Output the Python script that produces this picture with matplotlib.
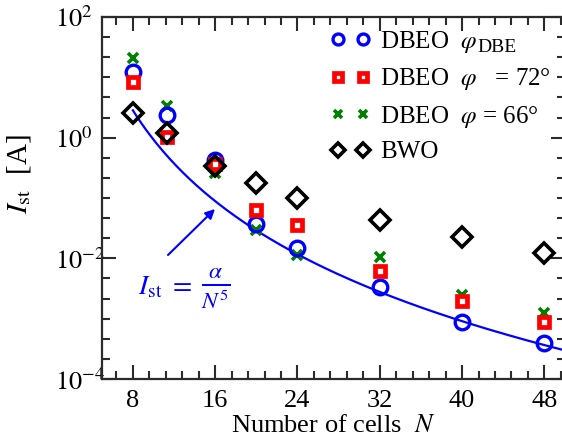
import numpy as np
import matplotlib
matplotlib.use("Agg")
import matplotlib.pyplot as plt
from matplotlib.ticker import FixedLocator, MultipleLocator, FuncFormatter, NullFormatter

plt.rcParams['font.family'] = ['Liberation Serif', 'DejaVu Serif']
plt.rcParams['mathtext.fontset'] = 'stix'

# data
N = [8, 11.3, 16, 20, 24, 32, 40, 48]
dbeo_dbe = [12.1, 2.38, 0.43, 0.0366, 0.0147, 0.0033, 0.00089, 0.00039]
dbeo_72 = [8.5, 1.04, 0.37, 0.0632, 0.0357, 0.0062, 0.0020, 0.00089]
dbeo_66 = [20.7, 3.35, 0.256, 0.0294, 0.0114, 0.0106, 0.00247, 0.00123]
bwo = [2.6, 1.19, 0.343, 0.175, 0.0988, 0.0431, 0.0223, 0.0124]
alpha = 9.3e4
N_fit = np.linspace(8, 50, 200)

W, H = 562, 443
fig = plt.figure(figsize=(W / 100, H / 100), dpi=100)
ax = fig.add_axes([102 / W, (H - 379) / H, 463 / W, 362 / H])

ax.plot(N_fit, alpha / N_fit ** 5, color='#0000ff', lw=1.6, zorder=1)

ax.plot(N, dbeo_dbe, ls='none', marker='o', ms=10.5, mfc='none', mec='#0000ff', mew=2.4,
        label=r'DBEO  $\varphi$', zorder=3)
ax.plot(N, dbeo_72, ls='none', marker='s', ms=7.5, mfc='white', mec='#ff0000', mew=3.4,
        label='DBEO  $\\varphi$   = 72°', zorder=4)
ax.plot(N, dbeo_66, ls='none', marker='x', ms=7, mec='#008000', mew=2.6,
        label='DBEO  $\\varphi$ = 66°', zorder=2)
ax.plot(N, bwo, ls='none', marker='D', ms=10, mfc='none', mec='black', mew=2.6,
        label='BWO', zorder=5)

ax.set_yscale('log')
ax.set_xlim(5, 50)
ax.set_ylim(1e-4, 1e2)

ax.xaxis.set_major_locator(MultipleLocator(8))
ax.xaxis.set_minor_locator(MultipleLocator(1.6))
ax.yaxis.set_major_locator(FixedLocator([1e-4, 1e-2, 1e0, 1e2]))
ax.yaxis.set_minor_locator(FixedLocator([10 ** (k / 3) for k in range(-12, 7)]))
ax.yaxis.set_minor_formatter(NullFormatter())
ax.yaxis.set_major_formatter(FuncFormatter(lambda v, p: r'$10^{%d}$' % int(round(np.log10(v)))))

spc = '#2b2b2b'
for s in ax.spines.values():
    s.set_linewidth(1.6)
    s.set_color(spc)
ax.tick_params(which='both', direction='in', top=True, right=True, color=spc, width=1.5,
               labelsize=19)
ax.tick_params(which='major', length=10)
ax.tick_params(which='minor', length=5.5)
ax.tick_params(axis='x', which='major', pad=8)
ax.tick_params(axis='y', which='major', pad=34)
for lab in ax.get_yticklabels():
    lab.set_ha('left')

ax.set_xlabel(r'Number of cells  $N$', fontsize=19, labelpad=2)
ax.set_ylabel(r'$I_{\rm st}$  [A]', fontsize=21)
ax.yaxis.set_label_coords(-0.15, 0.566)

# arrow
ax.annotate('', xy=(215, H - 209), xycoords='figure pixels',
            xytext=(168, H - 255), textcoords='figure pixels',
            arrowprops=dict(arrowstyle='-|>', color='#0000ff', lw=1.5, shrinkA=0, shrinkB=0,
                            mutation_scale=14))
fig.text(138 / W, (H - 288) / H, r'$I_{\rm st}\ =$', color='#0000ff', fontsize=20,
         ha='left', va='center')
fig.text(216 / W, (H - 288) / H, r'$\frac{\alpha}{N^5}$', color='#0000ff', fontsize=24,
         ha='center', va='center')

leg = ax.legend(loc='upper left', bbox_to_anchor=((330 - 102) / 463, 1 - 12 / 362),
                frameon=False, numpoints=2, markerscale=0.75, fontsize=18,
                handlelength=1.6, handletextpad=0.4, labelspacing=0.45, borderpad=0,
                borderaxespad=0)

# subscript "DBE" of the first legend entry
fig.canvas.draw()
t0 = leg.get_texts()[0]
bb = t0.get_window_extent(renderer=fig.canvas.get_renderer())
fig.text((bb.x1 + 0.5) / W, (bb.y0 - 1) / H, 'DBE', fontsize=14, ha='left', va='bottom')

fig.savefig('out.png', dpi=100)
